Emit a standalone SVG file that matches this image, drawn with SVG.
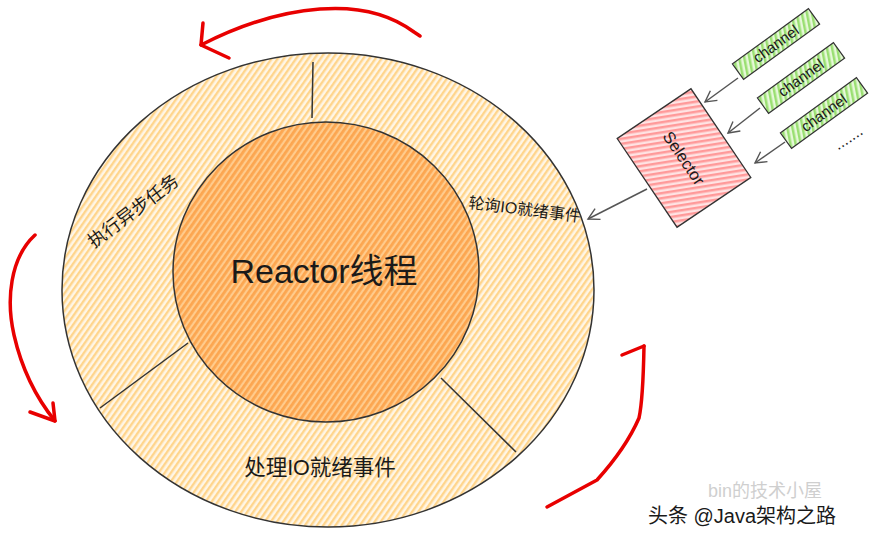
<svg xmlns="http://www.w3.org/2000/svg" width="878" height="533" viewBox="0 0 878 533">
<defs>
<pattern id="hOuter" patternUnits="userSpaceOnUse" width="5" height="5" patternTransform="rotate(35)"><rect width="5" height="5" fill="#fff6e6"/><rect width="2.4" height="5" fill="#ffd58c"/></pattern>
<pattern id="hInner" patternUnits="userSpaceOnUse" width="5" height="5" patternTransform="rotate(35)"><rect width="5" height="5" fill="#ffcb8c"/><rect width="2.8" height="5" fill="#fca650"/></pattern>
<pattern id="hRed" patternUnits="userSpaceOnUse" width="5" height="5" patternTransform="rotate(25)"><rect width="5" height="5" fill="#ffe3e3"/><rect width="2.5" height="5" fill="#ff9a9a"/></pattern>
<pattern id="hGreen" patternUnits="userSpaceOnUse" width="5" height="5" patternTransform="rotate(25)"><rect width="5" height="5" fill="#e6f8d8"/><rect width="2.5" height="5" fill="#9adf72"/></pattern>
<marker id="ah" markerWidth="14" markerHeight="14" refX="12" refY="7" orient="auto" markerUnits="userSpaceOnUse"><polyline points="1,1 12,7 1,13" fill="none" stroke="#555" stroke-width="1.4"/></marker>
</defs>
<style>
.cn{font-family:"Liberation Sans","Noto Sans CJK SC",sans-serif;fill:#1a1a1a}
.ln{stroke:#333;stroke-width:1.5;fill:none}
.red{stroke:#e80000;stroke-width:3.5;fill:none;stroke-linecap:round;stroke-linejoin:round}
.conn{stroke:#555;stroke-width:1.5;fill:none;marker-end:url(#ah)}
.ch{fill:url(#hGreen);stroke:#333;stroke-width:1.2}
</style>
<rect width="878" height="533" fill="#fff"/>

<g id="ring">
<ellipse cx="328" cy="290" rx="266" ry="237" fill="url(#hOuter)" stroke="#333" stroke-width="1.5"/>
<line class="ln" x1="313" y1="62" x2="312" y2="118"/>
<line class="ln" x1="100" y1="408" x2="188" y2="343"/>
<line class="ln" x1="441" y1="378" x2="516" y2="452"/>
<text class="cn" font-size="18" text-anchor="middle" transform="translate(137,216) rotate(-37)">执行异步任务</text>
<text class="cn" font-size="16" text-anchor="middle" transform="translate(524,215) rotate(7)">轮询IO就绪事件</text>
<text class="cn" font-size="21.5" text-anchor="middle" x="320" y="475">处理IO就绪事件</text>
</g>

<g id="reactor">
<ellipse cx="326" cy="272" rx="153" ry="150" fill="url(#hInner)" stroke="#333" stroke-width="1.5"/>
<text class="cn" font-size="34" text-anchor="middle" x="324" y="283">Reactor线程</text>
</g>

<g id="selector" transform="translate(684,158) rotate(56)">
<rect x="-53.5" y="-44.5" width="107" height="89" fill="url(#hRed)" stroke="#333" stroke-width="1.3"/>
<text class="cn" font-size="16.5" text-anchor="middle" x="0" y="6">Selector</text>
</g>

<g id="channel1" transform="translate(776,44) rotate(-36)">
<rect class="ch" x="-47" y="-9.5" width="94" height="19"/>
<text class="cn" font-size="15" text-anchor="middle" x="0" y="5">channel</text>
</g>
<g id="channel2" transform="translate(801,78) rotate(-36)">
<rect class="ch" x="-47" y="-9.5" width="94" height="19"/>
<text class="cn" font-size="15" text-anchor="middle" x="0" y="5">channel</text>
</g>
<g id="channel3" transform="translate(824,113) rotate(-36)">
<rect class="ch" x="-47" y="-9.5" width="94" height="19"/>
<text class="cn" font-size="15" text-anchor="middle" x="0" y="5">channel</text>
</g>
<g id="more">
<text class="cn" font-size="16" text-anchor="middle" transform="translate(851,142) rotate(-33)">.......</text>
</g>

<g id="connectors">
<line class="conn" x1="738" y1="78" x2="705" y2="102"/>
<line class="conn" x1="760" y1="108" x2="728" y2="133"/>
<line class="conn" x1="785" y1="142" x2="755" y2="163"/>
<line class="conn" x1="647" y1="189" x2="588" y2="219"/>
</g>

<g id="redArrows">
<path class="red" d="M420,36 L414,32 C390,14 360,6 320,9 C280,12 240,25 201,45"/>
<path class="red" d="M203,23 L201,45 L229,58"/>
<path class="red" d="M35,235 C10,258 6,300 14,335 C22,370 38,400 55,421"/>
<path class="red" d="M53,403 L55,421 L30,412"/>
<path class="red" d="M547,507 L597,480 Q626,448 639,418 Q643,400 644,346"/>
<path class="red" d="M622,355 L644,346"/>
</g>

<g id="watermark">
<text font-family="Liberation Sans,Noto Sans CJK SC,sans-serif" font-size="18" fill="#cfcfcf" x="708" y="497">bin的技术小屋</text>
<text class="cn" font-size="20" fill="#333" x="648" y="523">头条 @Java架构之路</text>
</g>
</svg>
